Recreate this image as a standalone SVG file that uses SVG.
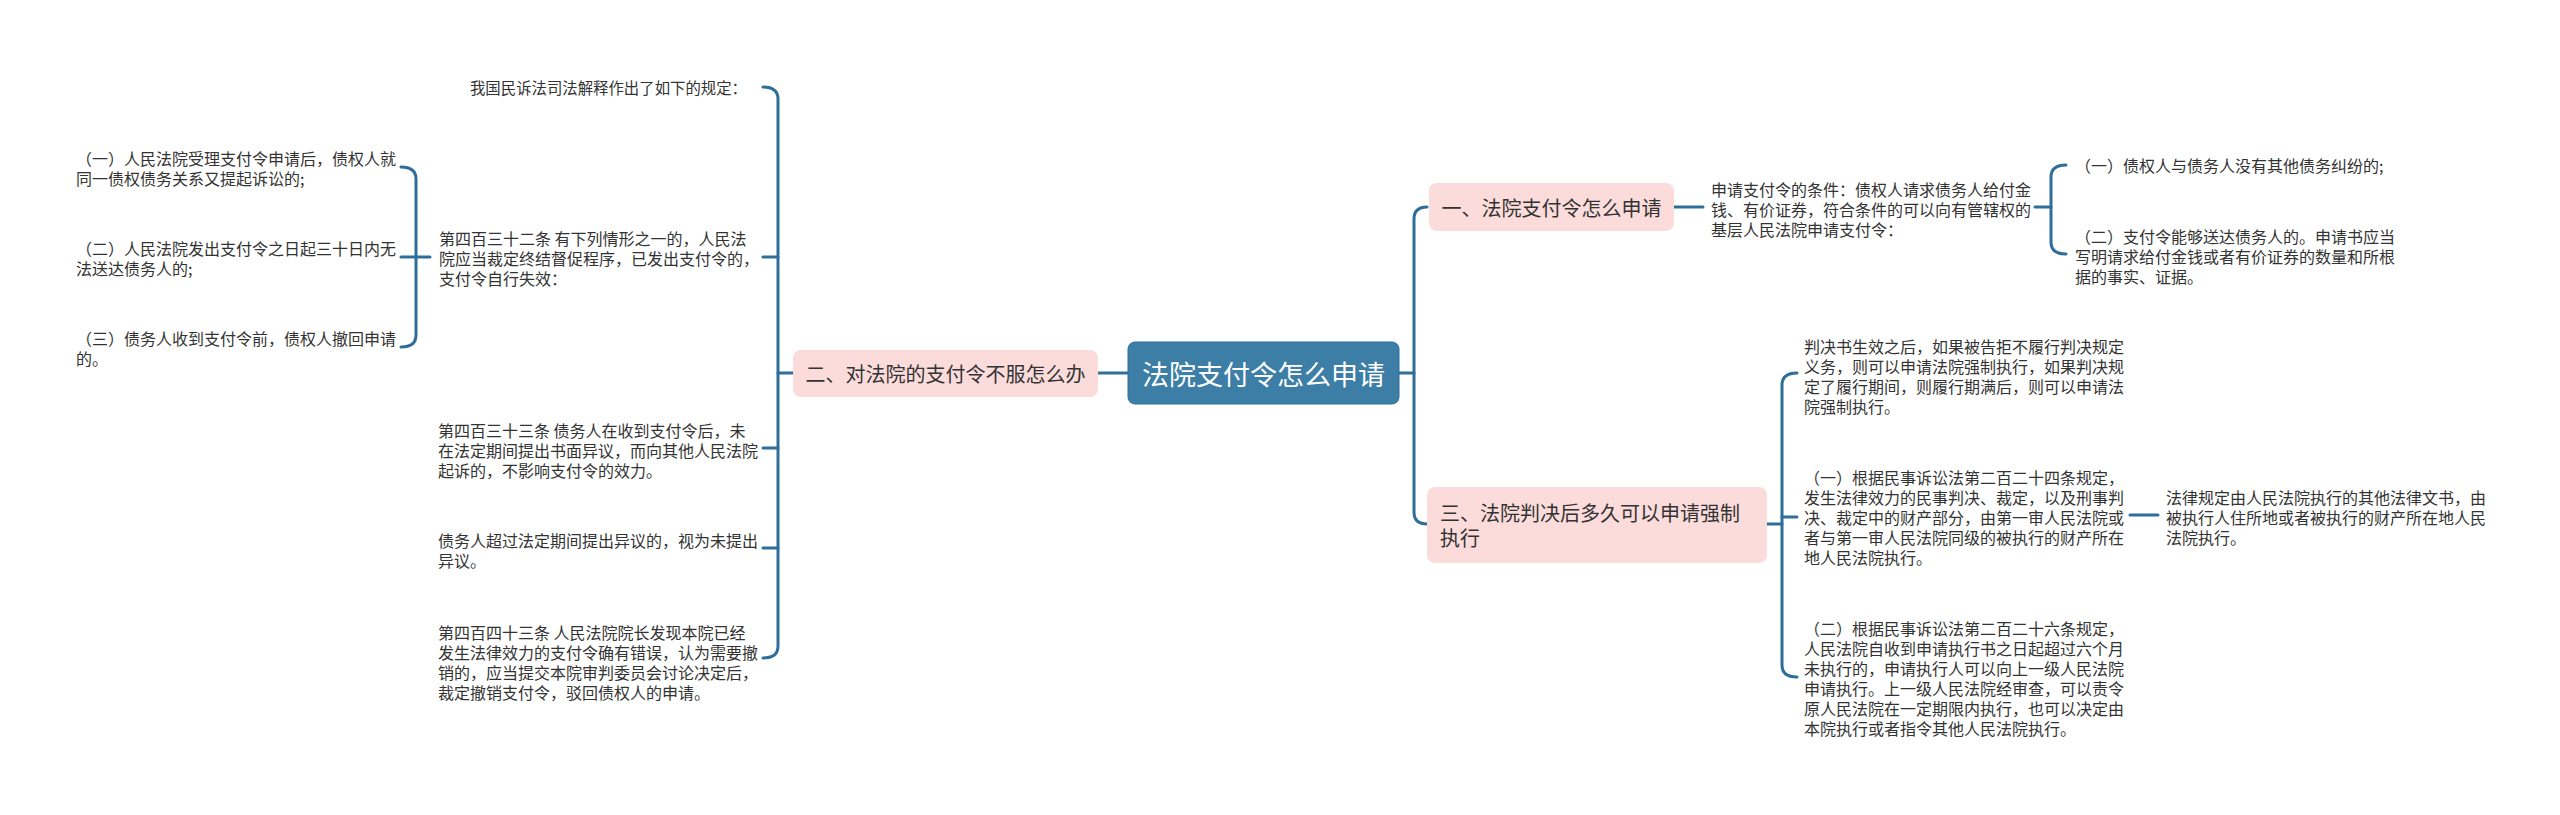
<svg xmlns="http://www.w3.org/2000/svg" width="2560" height="815" viewBox="0 0 2560 815">
<style>
text{font-family:"Noto Sans CJK SC","Noto Sans",sans-serif;dominant-baseline:central;fill:#333}
.leaf{font-size:16px}
.sub{font-size:20px}
.root{font-size:27px;fill:#fff}
.pink{fill:#fbdcdb}
.conn{fill:none;stroke:#2f6e98;stroke-width:3;stroke-linecap:round}
</style>
<rect width="2560" height="815" fill="#fff"/>
<g id="connectors" class="conn">
<path d="M1128 373 L1098 373"/>
<path d="M793 373 L778 373"/>
<path d="M763 87 Q778 87 778 99 L778 646 Q778 658 763 658"/>
<path d="M778 257 L763 257"/>
<path d="M778 448 L763 448"/>
<path d="M778 548 L763 548"/>
<path d="M430 257 L416 257"/>
<path d="M401 167 Q416 167 416 179 L416 335 Q416 347 401 347"/>
<path d="M416 257 L401 257"/>
<path d="M1399 373 L1414 373"/>
<path d="M1427 207 Q1414 207 1414 219 L1414 512 Q1414 524 1427 524"/>
<path d="M1674 207 L1703 207"/>
<path d="M2035 207 L2051 207"/>
<path d="M2066 165 Q2051 165 2051 177 L2051 242 Q2051 254 2066 254"/>
<path d="M1767 524 L1782 524"/>
<path d="M1797 373 Q1782 373 1782 385 L1782 665 Q1782 677 1797 677"/>
<path d="M1782 517 L1797 517"/>
<path d="M2130 515 L2158 515"/>
</g>
<g id="root">
<rect x="1128" y="342" width="271" height="62" rx="7" fill="#3d7ea7" stroke="#2f6e98" stroke-width="1"/>
<text class="root" x="1263.5" y="373" text-anchor="middle">法院支付令怎么申请</text>
</g>
<g id="b2">
<rect class="pink" x="793" y="350" width="305" height="47" rx="8"/>
<text class="sub" x="945.5" y="373" text-anchor="middle">二、对法院的支付令不服怎么办</text>
</g>
<g id="b1">
<rect class="pink" x="1429" y="183" width="245" height="48" rx="8"/>
<text class="sub" x="1551.5" y="207" text-anchor="middle">一、法院支付令怎么申请</text>
</g>
<g id="b3">
<rect class="pink" x="1427" y="487" width="340" height="76" rx="8"/>
<text class="sub" x="1440" y="512">三、法院判决后多久可以申请强制</text>
<text class="sub" x="1440" y="537">执行</text>
</g>
<g id="l1">
<text class="leaf" x="747" y="87" text-anchor="end" style="font-size:15.4px">我国民诉法司法解释作出了如下的规定：</text>
</g>
<g id="l2">
<text class="leaf" x="439" y="238">第四百三十二条 有下列情形之一的，人民法</text>
<text class="leaf" x="439" y="258">院应当裁定终结督促程序，已发出支付令的，</text>
<text class="leaf" x="439" y="278">支付令自行失效：</text>
</g>
<g id="l2a">
<text class="leaf" x="76" y="158">（一）人民法院受理支付令申请后，债权人就</text>
<text class="leaf" x="76" y="178">同一债权债务关系又提起诉讼的;</text>
</g>
<g id="l2b">
<text class="leaf" x="76" y="248">（二）人民法院发出支付令之日起三十日内无</text>
<text class="leaf" x="76" y="268">法送达债务人的;</text>
</g>
<g id="l2c">
<text class="leaf" x="76" y="338">（三）债务人收到支付令前，债权人撤回申请</text>
<text class="leaf" x="76" y="358">的。</text>
</g>
<g id="l3">
<text class="leaf" x="438" y="430">第四百三十三条 债务人在收到支付令后，未</text>
<text class="leaf" x="438" y="450">在法定期间提出书面异议，而向其他人民法院</text>
<text class="leaf" x="438" y="470">起诉的，不影响支付令的效力。</text>
</g>
<g id="l4">
<text class="leaf" x="438" y="540">债务人超过法定期间提出异议的，视为未提出</text>
<text class="leaf" x="438" y="560">异议。</text>
</g>
<g id="l5">
<text class="leaf" x="438" y="632">第四百四十三条 人民法院院长发现本院已经</text>
<text class="leaf" x="438" y="652">发生法律效力的支付令确有错误，认为需要撤</text>
<text class="leaf" x="438" y="672">销的，应当提交本院审判委员会讨论决定后，</text>
<text class="leaf" x="438" y="692">裁定撤销支付令，驳回债权人的申请。</text>
</g>
<g id="r1">
<text class="leaf" x="1711" y="189">申请支付令的条件：债权人请求债务人给付金</text>
<text class="leaf" x="1711" y="209">钱、有价证券，符合条件的可以向有管辖权的</text>
<text class="leaf" x="1711" y="229">基层人民法院申请支付令：</text>
</g>
<g id="r1a">
<text class="leaf" x="2075" y="165">（一）债权人与债务人没有其他债务纠纷的;</text>
</g>
<g id="r1b">
<text class="leaf" x="2075" y="236">（二）支付令能够送达债务人的。申请书应当</text>
<text class="leaf" x="2075" y="256">写明请求给付金钱或者有价证券的数量和所根</text>
<text class="leaf" x="2075" y="276">据的事实、证据。</text>
</g>
<g id="r3a">
<text class="leaf" x="1804" y="346">判决书生效之后，如果被告拒不履行判决规定</text>
<text class="leaf" x="1804" y="366">义务，则可以申请法院强制执行，如果判决规</text>
<text class="leaf" x="1804" y="386">定了履行期间，则履行期满后，则可以申请法</text>
<text class="leaf" x="1804" y="406">院强制执行。</text>
</g>
<g id="r3b">
<text class="leaf" x="1804" y="477">（一）根据民事诉讼法第二百二十四条规定，</text>
<text class="leaf" x="1804" y="497">发生法律效力的民事判决、裁定，以及刑事判</text>
<text class="leaf" x="1804" y="517">决、裁定中的财产部分，由第一审人民法院或</text>
<text class="leaf" x="1804" y="537">者与第一审人民法院同级的被执行的财产所在</text>
<text class="leaf" x="1804" y="557">地人民法院执行。</text>
</g>
<g id="r3b1">
<text class="leaf" x="2166" y="497">法律规定由人民法院执行的其他法律文书，由</text>
<text class="leaf" x="2166" y="517">被执行人住所地或者被执行的财产所在地人民</text>
<text class="leaf" x="2166" y="537">法院执行。</text>
</g>
<g id="r3c">
<text class="leaf" x="1804" y="628">（二）根据民事诉讼法第二百二十六条规定，</text>
<text class="leaf" x="1804" y="648">人民法院自收到申请执行书之日起超过六个月</text>
<text class="leaf" x="1804" y="668">未执行的，申请执行人可以向上一级人民法院</text>
<text class="leaf" x="1804" y="688">申请执行。上一级人民法院经审查，可以责令</text>
<text class="leaf" x="1804" y="708">原人民法院在一定期限内执行，也可以决定由</text>
<text class="leaf" x="1804" y="728">本院执行或者指令其他人民法院执行。</text>
</g>
</svg>
